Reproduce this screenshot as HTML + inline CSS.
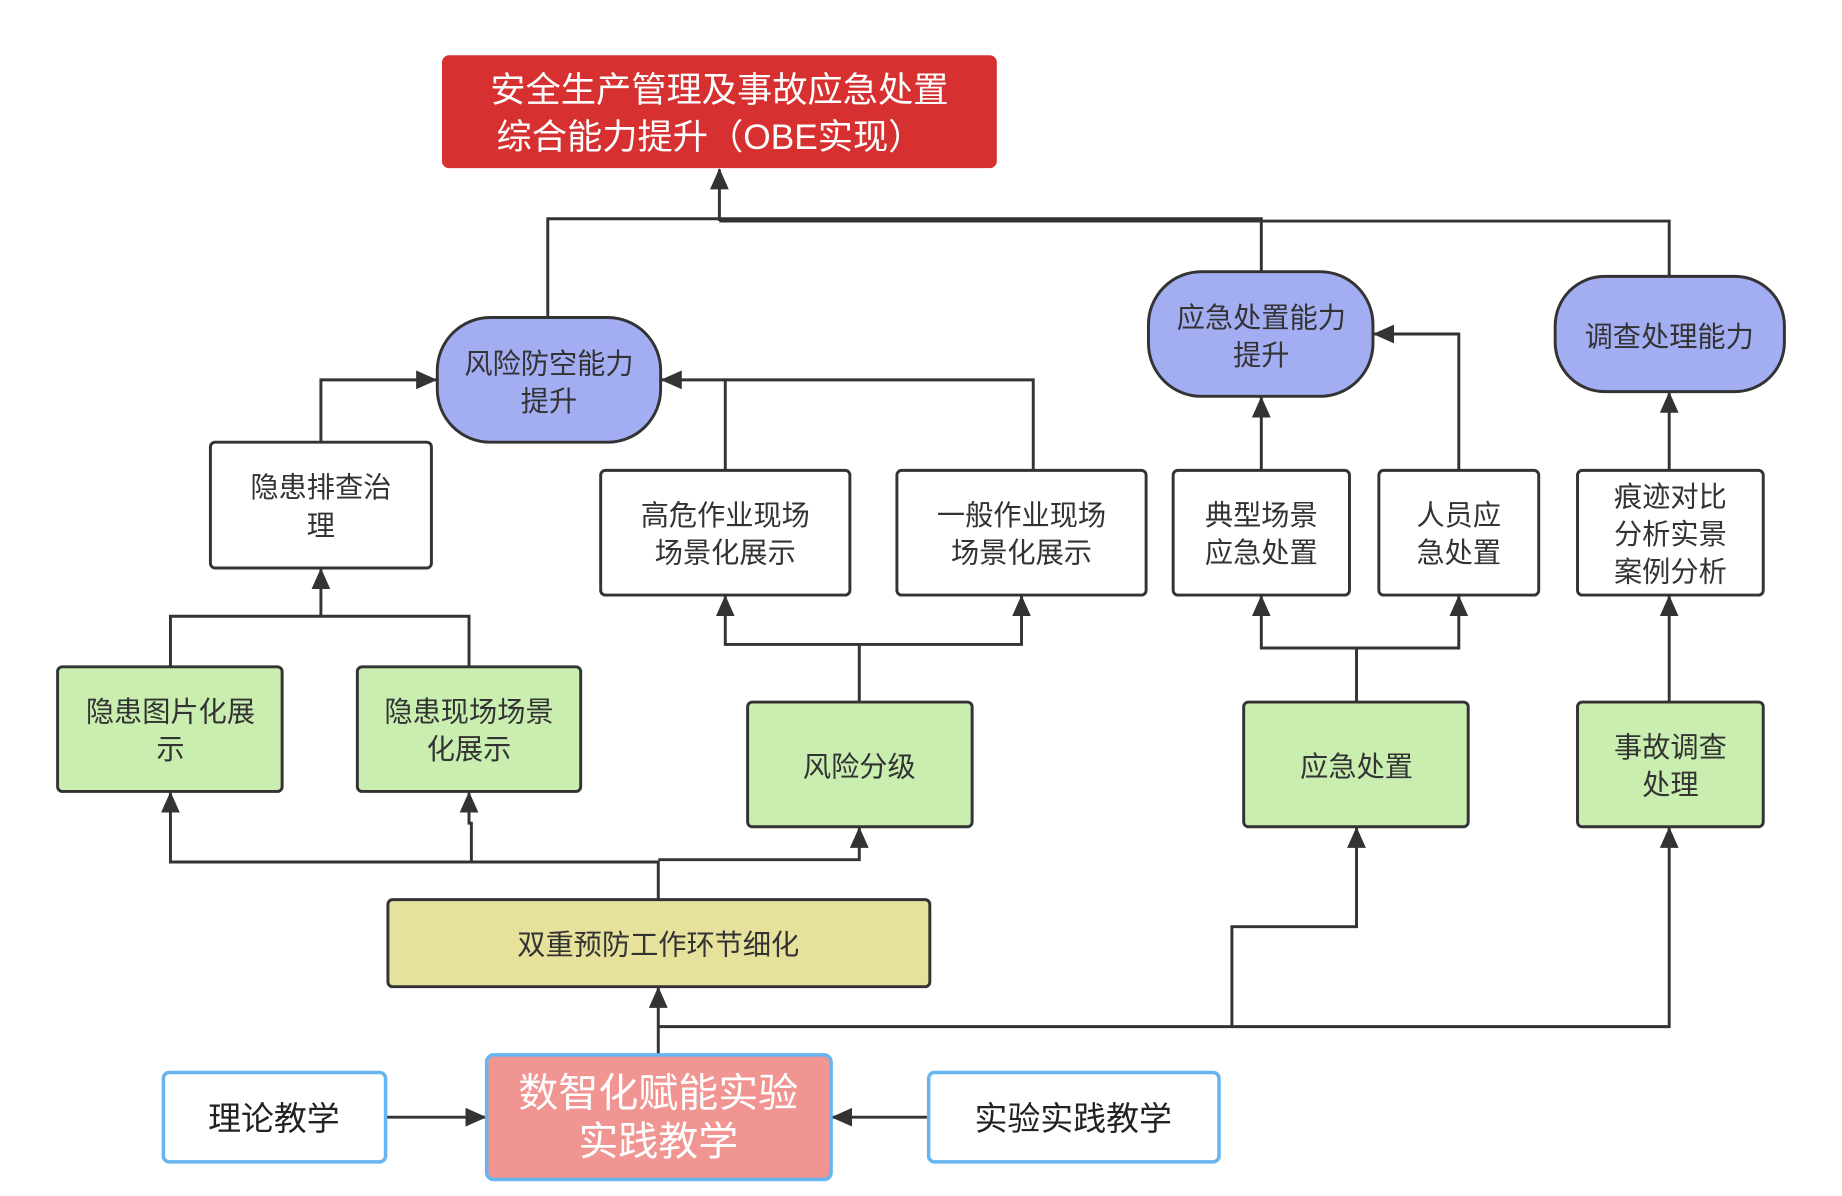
<!DOCTYPE html>
<html><head><meta charset="utf-8"><style>
html,body{margin:0;padding:0;background:#fff;}
svg{display:block;}
text{font-family:"Liberation Sans","Noto Sans CJK SC",sans-serif;text-anchor:middle;dominant-baseline:central;}
</style></head><body>
<svg width="1842" height="1196" viewBox="0 0 1567 1017" preserveAspectRatio="none" xmlns="http://www.w3.org/2000/svg">
<defs>
<marker id="a" viewBox="0 0 18 16" refX="17" refY="8" markerWidth="18" markerHeight="16" markerUnits="userSpaceOnUse" orient="auto">
<path d="M0,0 L18,8 L0,16 z" fill="#333"/>
</marker>
</defs>
<g fill="none" stroke="#333" stroke-width="2.5">
<path d="M466,270 V186 H1073 V231"/>
<path d="M612,188 H1420 V235"/>
<path d="M612,188 V144" marker-end="url(#a)"/>
<path d="M273,376 V323 H371" marker-end="url(#a)"/>
<path d="M617,400 V323 H879 V400"/>
<path d="M617,323 H563" marker-end="url(#a)"/>
<path d="M1073,400 V338" marker-end="url(#a)"/>
<path d="M1241,400 V284 H1169" marker-end="url(#a)"/>
<path d="M1420,400 V334" marker-end="url(#a)"/>
<path d="M145,567 V524 H399 V567"/>
<path d="M273,524 V484" marker-end="url(#a)"/>
<path d="M731,597 V548 H617 V507" marker-end="url(#a)"/>
<path d="M731,548 H869 V507" marker-end="url(#a)"/>
<path d="M1154,597 V551 H1073 V507" marker-end="url(#a)"/>
<path d="M1154,551 H1241 V507" marker-end="url(#a)"/>
<path d="M1420,597 V507" marker-end="url(#a)"/>
<path d="M560,765 V733 H145 V674" marker-end="url(#a)"/>
<path d="M401,733 V700 H399 V674" marker-end="url(#a)"/>
<path d="M560,731 H731 V704" marker-end="url(#a)"/>
<path d="M560,897 V840" marker-end="url(#a)"/>
<path d="M560,873 H1420 V704" marker-end="url(#a)"/>
<path d="M1048,873 V788 H1154 V704" marker-end="url(#a)"/>
<path d="M328,950 H413" marker-end="url(#a)"/>
<path d="M790,950 H708" marker-end="url(#a)"/>
</g>
<rect x="376" y="47" width="472" height="96" rx="6" fill="#d63030"/>
<text x="612" y="77" font-size="30" fill="#fff">安全生产管理及事故应急处置</text>
<text x="604" y="117" font-size="30" fill="#fff">综合能力提升（OBE实现）</text>
<g fill="#a3adf2" stroke="#333" stroke-width="2.5">
<rect x="372" y="270" width="190" height="106" rx="45"/>
<rect x="977" y="231" width="191" height="106" rx="45"/>
<rect x="1323" y="235" width="195" height="98" rx="42"/>
</g>
<g font-size="24" fill="#333">
<text x="467" y="309">风险防空能力</text><text x="467" y="341">提升</text>
<text x="1073" y="270">应急处置能力</text><text x="1073" y="302">提升</text>
<text x="1420" y="286">调查处理能力</text>
</g>
<g fill="#fff" stroke="#333" stroke-width="2.5">
<rect x="179" y="376" width="188" height="107" rx="4"/>
<rect x="511" y="400" width="212" height="106" rx="4"/>
<rect x="763" y="400" width="212" height="106" rx="4"/>
<rect x="998" y="400" width="150" height="106" rx="4"/>
<rect x="1173" y="400" width="136" height="106" rx="4"/>
<rect x="1342" y="400" width="158" height="106" rx="4"/>
</g>
<g font-size="24" fill="#333">
<text x="273" y="414">隐患排查治</text><text x="273" y="447">理</text>
<text x="617" y="438">高危作业现场</text><text x="617" y="470">场景化展示</text>
<text x="869" y="438">一般作业现场</text><text x="869" y="470">场景化展示</text>
<text x="1073" y="438">典型场景</text><text x="1073" y="470">应急处置</text>
<text x="1241" y="438">人员应</text><text x="1241" y="470">急处置</text>
<text x="1421" y="422">痕迹对比</text><text x="1421" y="454">分析实景</text><text x="1421" y="486">案例分析</text>
</g>
<g fill="#c9eeb0" stroke="#333" stroke-width="2.5">
<rect x="49" y="567" width="191" height="106" rx="4"/>
<rect x="304" y="567" width="190" height="106" rx="4"/>
<rect x="636" y="597" width="191" height="106" rx="4"/>
<rect x="1058" y="597" width="191" height="106" rx="4"/>
<rect x="1342" y="597" width="158" height="106" rx="4"/>
</g>
<g font-size="24" fill="#333">
<text x="145" y="605">隐患图片化展</text><text x="145" y="637">示</text>
<text x="399" y="605">隐患现场场景</text><text x="399" y="637">化展示</text>
<text x="731" y="652">风险分级</text>
<text x="1154" y="652">应急处置</text>
<text x="1421" y="635">事故调查</text><text x="1421" y="667">处理</text>
</g>
<rect x="330" y="765" width="461" height="74" rx="4" fill="#e6e29c" stroke="#333" stroke-width="2.5"/>
<text x="560" y="803" font-size="24" fill="#333">双重预防工作环节细化</text>
<rect x="414" y="897" width="293" height="106" rx="6" fill="#f09592" stroke="#66b5f0" stroke-width="3"/>
<text x="560" y="930" font-size="34" fill="#fff">数智化赋能实验</text>
<text x="560" y="971" font-size="34" fill="#fff">实践教学</text>
<rect x="139" y="912" width="189" height="76" rx="5" fill="#fff" stroke="#66b5f0" stroke-width="3"/>
<text x="233" y="951" font-size="28" fill="#222">理论教学</text>
<rect x="790" y="912" width="247" height="76" rx="5" fill="#fff" stroke="#66b5f0" stroke-width="3"/>
<text x="913" y="951" font-size="28" fill="#222">实验实践教学</text>
</svg>
</body></html>
